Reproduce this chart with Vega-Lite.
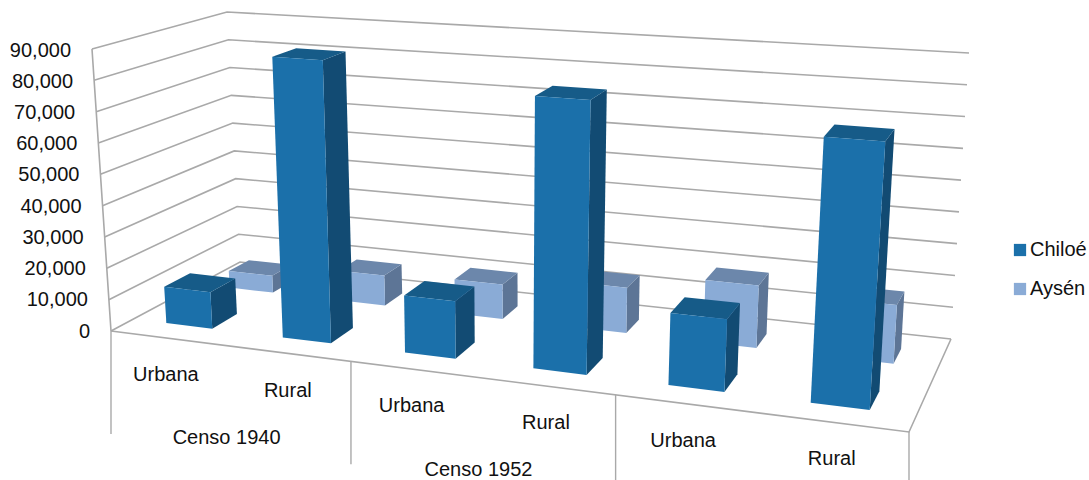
{
  "$schema": "https://vega.github.io/schema/vega-lite/v6.json",
  "width": 1089,
  "height": 480,
  "padding": 0,
  "autosize": "none",
  "background": "white",
  "config": {"view": {"stroke": null}, "text": {"font": "Liberation Sans", "fontSize": 20, "fill": "#111111"}},
  "datasets": {
    "censos": [
      {"censo": "Censo 1940", "zona": "Urbana", "region": "Aysén", "poblacion": 5700},
      {"censo": "Censo 1940", "zona": "Rural", "region": "Aysén", "poblacion": 9950},
      {"censo": "Censo 1952", "zona": "Urbana", "region": "Aysén", "poblacion": 11200},
      {"censo": "Censo 1952", "zona": "Rural", "region": "Aysén", "poblacion": 14500},
      {"censo": "Censo 1960", "zona": "Urbana", "region": "Aysén", "poblacion": 19500},
      {"censo": "Censo 1960", "zona": "Rural", "region": "Aysén", "poblacion": 17900},
      {"censo": "Censo 1940", "zona": "Urbana", "region": "Chiloé", "poblacion": 11700},
      {"censo": "Censo 1940", "zona": "Rural", "region": "Chiloé", "poblacion": 89000},
      {"censo": "Censo 1952", "zona": "Urbana", "region": "Chiloé", "poblacion": 17700},
      {"censo": "Censo 1952", "zona": "Rural", "region": "Chiloé", "poblacion": 82700},
      {"censo": "Censo 1960", "zona": "Urbana", "region": "Chiloé", "poblacion": 21400},
      {"censo": "Censo 1960", "zona": "Rural", "region": "Chiloé", "poblacion": 77100}
    ],
    "escala": [
      {"valor": 0}, {"valor": 10000}, {"valor": 20000}, {"valor": 30000}, {"valor": 40000},
      {"valor": 50000}, {"valor": 60000}, {"valor": 70000}, {"valor": 80000}, {"valor": 90000}
    ],
    "limites": [{"limite": 0}, {"limite": 2}, {"limite": 4}, {"limite": 6}]
  },
  "encoding": {
    "x": {"field": "px", "type": "quantitative", "scale": {"domain": [0, 1089], "nice": false, "zero": false}, "axis": null},
    "y": {"field": "py", "type": "quantitative", "scale": {"domain": [480, 0], "nice": false, "zero": false}, "axis": null}
  },
  "layer": [
    {
      "description": "Back and side wall gridlines",
      "data": {"name": "escala"},
      "transform": [
        {"calculate": "[0,1,2]", "as": "vertice"},
        {"flatten": ["vertice"]},
        {"calculate": "datum.vertice==2?1:0", "as": "t"},
        {"calculate": "datum.vertice==0?0:1", "as": "s"},
        {"calculate": "(1-datum.s)*((1-datum.t)*111+datum.t*909)+datum.s*((1-datum.t)*240+datum.t*951)", "as": "xb"},
        {"calculate": "(1-datum.s)*((1-datum.t)*92+datum.t*930)+datum.s*((1-datum.t)*227+datum.t*969)", "as": "xt"},
        {"calculate": "(1-datum.s)*((1-datum.t)*331+datum.t*432)+datum.s*((1-datum.t)*262+datum.t*339)", "as": "yb"},
        {"calculate": "(1-datum.s)*((1-datum.t)*49+datum.t*110)+datum.s*((1-datum.t)*12+datum.t*53)", "as": "yt"},
        {"calculate": "datum.xb+(datum.xt-datum.xb)*datum.valor/90000", "as": "px"},
        {"calculate": "datum.yb+(datum.yt-datum.yb)*datum.valor/90000", "as": "py"}
      ],
      "mark": {"type": "line", "color": "#a9a9a9", "strokeWidth": 1.6},
      "encoding": {"detail": {"field": "valor"}, "order": {"field": "vertice"}}
    },
    {
      "description": "Front and right edges of the floor",
      "data": {"name": "escala"},
      "transform": [
        {"filter": "datum.valor==0"},
        {"calculate": "[0,1,2]", "as": "vertice"},
        {"flatten": ["vertice"]},
        {"calculate": "datum.vertice==0?111:datum.vertice==1?909:951", "as": "px"},
        {"calculate": "datum.vertice==0?331:datum.vertice==1?432:339", "as": "py"}
      ],
      "mark": {"type": "line", "color": "#a9a9a9", "strokeWidth": 1.6},
      "encoding": {"order": {"field": "vertice"}}
    },
    {
      "description": "Value edge at the front of the side wall",
      "data": {"name": "escala"},
      "transform": [
        {"calculate": "111-19*datum.valor/90000", "as": "px"},
        {"calculate": "331-282*datum.valor/90000", "as": "py"}
      ],
      "mark": {"type": "line", "color": "#a9a9a9", "strokeWidth": 1.6},
      "encoding": {"order": {"field": "valor"}}
    },
    {
      "description": "Value labels following the leaning edge",
      "data": {"name": "escala"},
      "transform": [
        {"calculate": "111-19*datum.valor/90000-21", "as": "px"},
        {"calculate": "331.5-281*datum.valor/90000", "as": "py"}
      ],
      "mark": {"type": "text", "align": "right", "baseline": "middle"},
      "encoding": {"text": {"field": "valor", "type": "quantitative", "format": ","}}
    },
    {
      "description": "Dividers hanging from the front edge between census groups",
      "data": {"name": "limites"},
      "transform": [
        {"calculate": "datum.limite/6*0.86/(1-0.14*datum.limite/6)", "as": "t"},
        {"calculate": "[0,1]", "as": "extremo"},
        {"flatten": ["extremo"]},
        {"calculate": "111+798*datum.t", "as": "px"},
        {"calculate": "331+101*datum.t+103*datum.extremo", "as": "py"}
      ],
      "mark": {"type": "line", "color": "#a9a9a9", "strokeWidth": 1.4, "clip": true},
      "encoding": {"detail": {"field": "limite"}, "order": {"field": "extremo"}}
    },
    {
      "description": "Zone labels under each category",
      "data": {"name": "censos"},
      "transform": [
        {"filter": "datum.region==='Chiloé'"},
        {"calculate": "indexof(['Censo 1940','Censo 1952','Censo 1960'],datum.censo)*2+(datum.zona==='Rural'?1:0)+0.5", "as": "u"},
        {"calculate": "datum.u/6*0.86/(1-0.14*datum.u/6)", "as": "t"},
        {"calculate": "111+798*datum.t-(datum.zona==='Urbana'?3:1)", "as": "px"},
        {"calculate": "331+101*datum.t+37", "as": "py"}
      ],
      "mark": {"type": "text", "align": "center", "baseline": "middle"},
      "encoding": {"text": {"field": "zona"}}
    },
    {
      "description": "Census labels beneath the zones",
      "data": {"name": "censos"},
      "transform": [
        {"filter": "datum.region==='Chiloé'&&datum.zona==='Urbana'&&datum.censo!=='Censo 1960'"},
        {"calculate": "indexof(['Censo 1940','Censo 1952','Censo 1960'],datum.censo)*2+1", "as": "u"},
        {"calculate": "datum.u/6*0.86/(1-0.14*datum.u/6)", "as": "t"},
        {"calculate": "111+798*datum.t-1.5", "as": "px"},
        {"calculate": "331+101*datum.t+92", "as": "py"}
      ],
      "mark": {"type": "text", "align": "center", "baseline": "middle"},
      "encoding": {"text": {"field": "censo"}}
    },
    {
      "description": "Bar faces projected from category, series and population",
      "data": {"name": "censos"},
      "transform": [
        {"calculate": "indexof(['Censo 1940','Censo 1952','Censo 1960'],datum.censo)*2+(datum.zona==='Rural'?1:0)", "as": "i"},
        {"calculate": "datum.region==='Chiloé'?0.175:0.68", "as": "s0"},
        {"calculate": "datum.region==='Chiloé'?0.38:0.84", "as": "s1"},
        {"calculate": "['lado','techo','frente']", "as": "cara"},
        {"flatten": ["cara"]},
        {"calculate": "[0,1,2,3]", "as": "vertice"},
        {"flatten": ["vertice"]},
        {"calculate": "datum.cara==='lado'||datum.vertice==1||datum.vertice==2?datum.i+0.69:datum.i+0.29", "as": "u"},
        {"calculate": "datum.cara==='frente'?datum.s0:datum.cara==='lado'?((datum.vertice==1||datum.vertice==2)?datum.s1:datum.s0):(datum.vertice>=2?datum.s1:datum.s0)", "as": "s"},
        {"calculate": "datum.cara==='techo'||datum.vertice>=2?datum.poblacion:0", "as": "h"},
        {"calculate": "datum.u/6*0.86/(1-0.14*datum.u/6)", "as": "t"},
        {"calculate": "(1-datum.s)*((1-datum.t)*111+datum.t*909)+datum.s*((1-datum.t)*240+datum.t*951)", "as": "xb"},
        {"calculate": "(1-datum.s)*((1-datum.t)*92+datum.t*930)+datum.s*((1-datum.t)*227+datum.t*969)", "as": "xt"},
        {"calculate": "(1-datum.s)*((1-datum.t)*331+datum.t*432)+datum.s*((1-datum.t)*262+datum.t*339)", "as": "yb"},
        {"calculate": "(1-datum.s)*((1-datum.t)*49+datum.t*110)+datum.s*((1-datum.t)*12+datum.t*53)", "as": "yt"},
        {"calculate": "datum.xb+(datum.xt-datum.xb)*datum.h/90000", "as": "px"},
        {"calculate": "datum.yb+(datum.yt-datum.yb)*datum.h/90000", "as": "py"},
        {"calculate": "datum.cara==='frente'?datum.region:datum.region+' '+datum.cara", "as": "clave"},
        {"calculate": "datum.censo+datum.zona+datum.region+datum.cara", "as": "cara_id"}
      ],
      "mark": {"type": "line", "interpolate": "linear-closed", "strokeWidth": 0},
      "encoding": {
        "detail": {"field": "cara_id"},
        "order": {"field": "vertice"},
        "fill": {
          "field": "clave",
          "type": "nominal",
          "scale": {
            "domain": ["Chiloé", "Chiloé lado", "Chiloé techo", "Aysén", "Aysén lado", "Aysén techo"],
            "range": ["#1b70aa", "#124b73", "#165b88", "#8aabd6", "#5d7596", "#6c87ab"]
          },
          "legend": {
            "values": ["Chiloé", "Aysén"],
            "title": null,
            "orient": "none",
            "legendX": 1010,
            "legendY": 240,
            "padding": 0,
            "symbolType": "square",
            "symbolSize": 150,
            "symbolStrokeWidth": 0,
            "labelFont": "Liberation Sans",
            "labelFontSize": 20,
            "labelColor": "#111111",
            "labelOffset": 0,
            "rowPadding": 19
          }
        }
      }
    }
  ]
}
